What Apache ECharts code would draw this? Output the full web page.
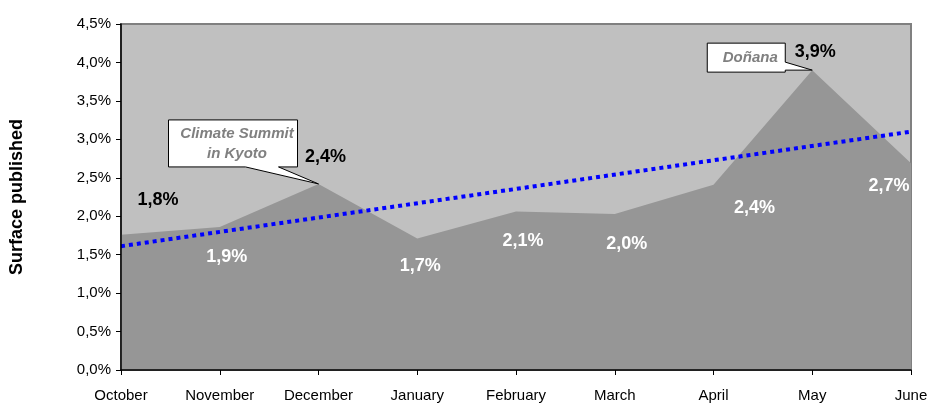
<!DOCTYPE html>
<html>
<head>
<meta charset="utf-8">
<script src="https://cdn.jsdelivr.net/npm/echarts@6/dist/echarts.min.js"></script>
<style>
  html, body { margin: 0; padding: 0; background: #ffffff; }
  #chart { width: 931px; height: 403px; }
</style>
</head>
<body>
<div id="chart"></div>
<script>
// Monthly share of surface published
const months = ['October', 'November', 'December', 'January', 'February', 'March', 'April', 'May', 'June'];
const surfaceShare = [1.76, 1.86, 2.42, 1.71, 2.06, 2.03, 2.41, 3.90, 2.69];

// Linear trend, start and end values
const trendStart = 1.61;
const trendEnd = 3.10;

// Event annotations: month index and text lines
const eventNotes = [
  { index: 2, lines: ['Climate Summit', 'in Kyoto'] },
  { index: 7, lines: ['Doñana'] }
];

const FONT = '"Liberation Sans", Arial, sans-serif';
const fmtPct = v => v.toFixed(1).replace('.', ',') + '%';

// Per-point label placement (offset from the point, text colour)
const labelLayout = [
  { offset: [37, -35], color: '#000000' },
  { offset: [7, 30], color: '#ffffff' },
  { offset: [7, -27], color: '#000000' },
  { offset: [3, 28], color: '#ffffff' },
  { offset: [7, 29], color: '#ffffff' },
  { offset: [12, 30], color: '#ffffff' },
  { offset: [41, 23], color: '#ffffff' },
  { offset: [3, -18], color: '#000000' },
  { offset: [-22, 23], color: '#ffffff' }
];

const chart = echarts.init(document.getElementById('chart'), null, { renderer: 'canvas' });

const option = {
  backgroundColor: '#ffffff',
  animation: false,
  grid: {
    left: 121, right: 20, top: 24, bottom: 32,
    show: true,
    backgroundColor: '#C0C0C0',
    borderColor: '#808080',
    borderWidth: 2
  },
  xAxis: {
    type: 'category',
    data: months,
    boundaryGap: false,
    axisLine: { show: true, lineStyle: { color: '#000000', width: 1.5 } },
    axisTick: { show: true, length: 5, lineStyle: { color: '#000000' } },
    axisLabel: { color: '#000000', fontFamily: FONT, fontSize: 15, margin: 18, interval: 0 },
    splitLine: { show: false },
    z: 10
  },
  yAxis: {
    type: 'value',
    min: 0, max: 4.5, interval: 0.5,
    name: 'Surface published',
    nameLocation: 'middle',
    nameRotate: 90,
    nameGap: 95,
    nameTextStyle: { color: '#000000', fontFamily: FONT, fontSize: 18, fontWeight: 'bold' },
    axisLine: { show: true, lineStyle: { color: '#000000', width: 1.5 } },
    axisTick: { show: true, length: 5, lineStyle: { color: '#000000' } },
    axisLabel: { color: '#000000', fontFamily: FONT, fontSize: 15, margin: 10, formatter: v => fmtPct(v) },
    splitLine: { show: false },
    z: 10
  },
  series: [
    {
      name: 'Surface published',
      type: 'line',
      data: surfaceShare.map((v, i) => ({
        value: v,
        label: { offset: labelLayout[i].offset, color: labelLayout[i].color }
      })),
      symbol: 'circle',
      symbolSize: 1,
      itemStyle: { color: 'rgba(0,0,0,0)' },
      lineStyle: { width: 0, color: '#969696' },
      areaStyle: { color: '#969696', opacity: 1 },
      label: {
        show: true,
        position: 'inside',
        align: 'center',
        verticalAlign: 'middle',
        fontFamily: FONT,
        fontSize: 18,
        fontWeight: 'bold',
        formatter: p => fmtPct(p.value)
      },
      z: 2
    },
    {
      name: 'Trend',
      type: 'line',
      data: [[0, trendStart], [months.length - 1, trendEnd]],
      symbol: 'none',
      lineStyle: { color: '#0000FF', width: 4, type: [4, 4], cap: 'butt' },
      z: 3,
      silent: true
    }
  ]
};

chart.setOption(option);

// Speech-bubble callouts anchored on the data points
function bubble(tip, box, wedge, lines) {
  const [L, T, R, B] = box;
  const pts = [[L, T], [R, T]].concat(wedge.side === 'right'
    ? [[R, wedge.a], [0, 0], [R, wedge.b], [R, B], [L, B]]
    : [[R, B], [wedge.b, B], [0, 0], [wedge.a, B], [L, B]]);
  const cx = (L + R) / 2;
  const cy = (T + B) / 2;
  const lh = 20;
  const texts = lines.map((t, k) => ({
    type: 'text',
    x: tip[0] + cx + 4,
    y: tip[1] + cy + (k - (lines.length - 1) / 2) * lh,
    style: {
      text: t,
      fill: '#808080',
      font: 'italic bold 15px ' + FONT,
      align: 'center',
      verticalAlign: 'middle'
    },
    z: 101
  }));
  return [{
    type: 'polygon',
    x: tip[0], y: tip[1],
    shape: { points: pts },
    style: { fill: '#ffffff', stroke: '#000000', lineWidth: 1 },
    z: 100
  }].concat(texts);
}

const tipOf = i => chart.convertToPixel({ gridIndex: 0 }, [i, surfaceShare[i]]);
const graphics = []
  .concat(bubble(tipOf(eventNotes[0].index), [-150, -64, -21, -17], { side: 'bottom', a: -73, b: -40 }, eventNotes[0].lines))
  .concat(bubble(tipOf(eventNotes[1].index), [-105, -27, -27, 2], { side: 'right', a: -8, b: 0 }, eventNotes[1].lines));

chart.setOption({ graphic: graphics });
</script>
</body>
</html>
